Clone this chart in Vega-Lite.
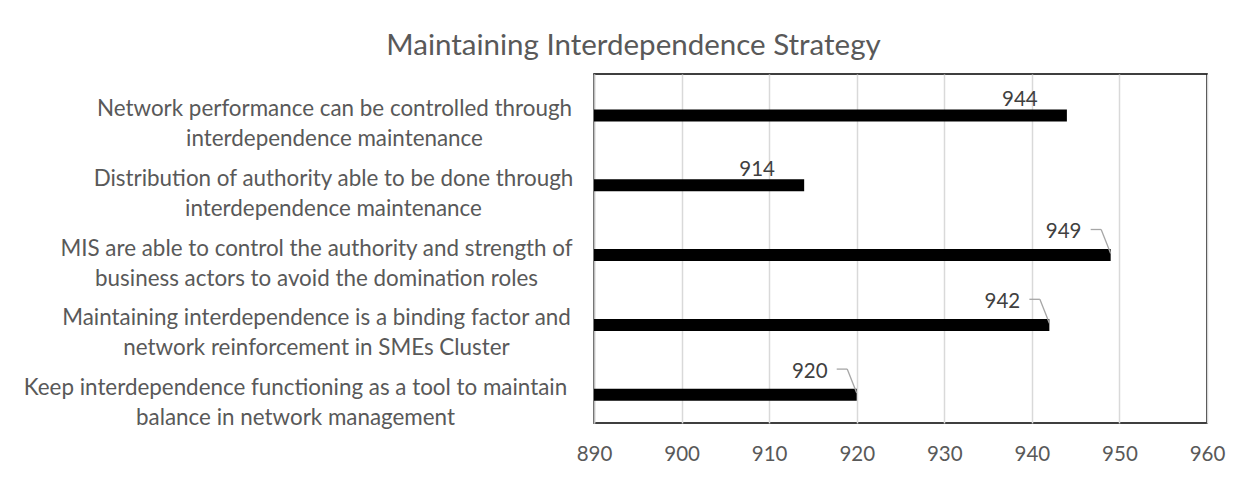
{
  "$schema": "https://vega.github.io/schema/vega-lite/v6.json",
  "width": 613,
  "height": 349,
  "autosize": {"type": "none"},
  "padding": {"left": 594, "top": 74, "right": 45, "bottom": 57},
  "background": "white",
  "config": {"view": {"stroke": "#000000", "strokeWidth": 1.6}, "font": "Lato"},
  "title": {
    "text": "Maintaining Interdependence Strategy",
    "anchor": "middle",
    "frame": "group",
    "dx": -267,
    "dy": 27,
    "baseline": "alphabetic",
    "offset": 17,
    "fontSize": 29.5,
    "font": "Lato",
    "fontWeight": "normal",
    "color": "#595959"
  },
  "data": {
    "values": [
      {"statement": "Network performance can be controlled through\ninterdependence maintenance", "value": 944},
      {"statement": "Distribution of authority able to be done through\ninterdependence maintenance", "value": 914},
      {"statement": "MIS are able to control the authority and strength of\nbusiness actors to avoid the domination roles", "value": 949},
      {"statement": "Maintaining interdependence is a binding factor and\nnetwork reinforcement in SMEs Cluster", "value": 942},
      {"statement": "Keep interdependence functioning as a tool to maintain\nbalance in network management", "value": 920}
    ]
  },
  "encoding": {
    "y": {
      "field": "statement",
      "type": "nominal",
      "sort": null,
      "scale": {"paddingInner": 0, "paddingOuter": 0},
      "axis": {
        "title": null,
        "labelExpr": "split(datum.value, '\\n')",
        "labelAlign": "center",
        "labelBaseline": "middle",
        "labelFont": "Lato",
        "labelFontSize": 22.4,
        "labelColor": "#595959",
        "labelLineHeight": 30,
        "labelLimit": 0,
        "ticks": false,
        "domain": true,
        "domainColor": "#bfbfbf",
        "domainWidth": 1.5,
        "grid": false,
        "labelPadding": {
          "condition": [
            {"test": "substring(datum.value, 0, 7) == 'Network'", "value": 260},
            {"test": "substring(datum.value, 0, 7) == 'Distrib'", "value": 261},
            {"test": "substring(datum.value, 0, 7) == 'MIS are'", "value": 278},
            {"test": "substring(datum.value, 0, 7) == 'Maintai'", "value": 278}
          ],
          "value": 299
        }
      }
    },
    "x": {
      "field": "value",
      "type": "quantitative",
      "scale": {"domain": [890, 960], "nice": false, "zero": false},
      "axis": {
        "title": null,
        "values": [890, 900, 910, 920, 930, 940, 950, 960],
        "grid": true,
        "gridColor": "#d9d9d9",
        "gridWidth": 1.5,
        "ticks": false,
        "domain": false,
        "labelFont": "Lato",
        "labelFontSize": 20.5,
        "labelColor": "#595959",
        "labelPadding": 21,
        "labelFlush": false
      }
    }
  },
  "layer": [
    {
      "mark": {"type": "bar", "color": "#000000", "size": 12, "yOffset": 6.6},
      "encoding": {"x2": {"datum": 890}}
    },
    {
      "transform": [{"filter": {"field": "value", "oneOf": [944, 914]}}],
      "mark": {"type": "text", "dx": -47, "dy": -3, "align": "center", "baseline": "alphabetic", "fontSize": 20.5, "font": "Lato", "color": "#404040"},
      "encoding": {"text": {"field": "value", "type": "quantitative"}}
    },
    {
      "transform": [{"filter": {"field": "value", "oneOf": [949, 942, 920]}}],
      "mark": {"type": "text", "dx": -47, "dy": -10.3, "align": "center", "baseline": "alphabetic", "fontSize": 20.5, "font": "Lato", "color": "#404040"},
      "encoding": {"text": {"field": "value", "type": "quantitative"}}
    },
    {
      "transform": [{"filter": {"field": "value", "oneOf": [949, 942, 920]}}],
      "mark": {"type": "rule", "color": "#a6a6a6", "strokeWidth": 1.3, "xOffset": -20, "x2Offset": -9.5, "yOffset": -19, "y2Offset": -19},
      "encoding": {"x2": {"field": "value"}, "y2": {"field": "statement"}}
    },
    {
      "transform": [{"filter": {"field": "value", "oneOf": [949, 942, 920]}}],
      "mark": {"type": "rule", "color": "#a6a6a6", "strokeWidth": 1.3, "xOffset": -9.5, "x2Offset": 0, "yOffset": -19, "y2Offset": 5},
      "encoding": {"x2": {"field": "value"}, "y2": {"field": "statement"}}
    }
  ]
}
